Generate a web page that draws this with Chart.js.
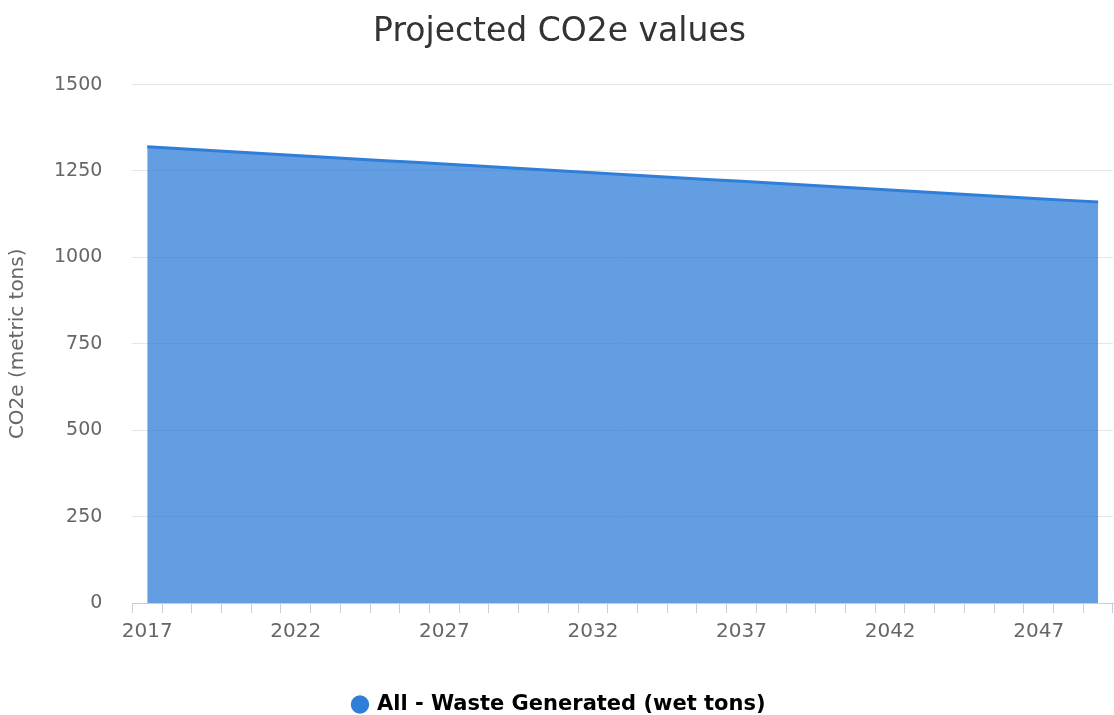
<!doctype html>
<html lang="en">
<head>
  <meta charset="utf-8">
  <title>Projected CO2e values</title>
  <script src="https://cdn.jsdelivr.net/npm/chart.js@4.4.0/dist/chart.umd.min.js"></script>
  <style>
    html, body { margin: 0; padding: 0; background: #fff; }
    #wrap { width: 1114px; height: 715px; }
  </style>
</head>
<body>
  <div id="wrap"><canvas id="myChart" width="1114" height="715"></canvas></div>
  <script>
    // years on the x axis
    const years = [2017, 2018, 2019, 2020, 2021, 2022, 2023, 2024, 2025, 2026,
      2027, 2028, 2029, 2030, 2031, 2032, 2033, 2034, 2035, 2036,
      2037, 2038, 2039, 2040, 2041, 2042, 2043, 2044, 2045, 2046,
      2047, 2048, 2049];
    // CO2e
    const co2e = [1320, 1315, 1310, 1305, 1300, 1295, 1290, 1285, 1280, 1275,
      1270, 1265, 1260, 1255, 1250, 1245, 1240, 1235, 1230, 1225,
      1220, 1215, 1210, 1205, 1200, 1195, 1190, 1185, 1180, 1175,
      1170, 1165, 1160];
    const seriesName = 'All - Waste Generated (wet tons)';
    const yTicks = [0, 250, 500, 750, 1000, 1250, 1500];

    const font = 'DejaVu Sans';

    new Chart(document.getElementById('myChart').getContext('2d'), {
      type: 'line',
      data: {
        labels: years.map(String),
        datasets: [{
          label: seriesName,
          data: co2e,
          borderColor: '#2f7ed8',
          backgroundColor: 'rgba(47, 126, 216, 0.75)',
          borderWidth: 3,
          fill: 'origin',
          pointRadius: 0,
          tension: 0
        }]
      },
      options: {
        responsive: false,
        animation: false,
        layout: { padding: { left: 6, right: 1, top: 0, bottom: -10 } },
        plugins: {
          title: {
            display: true,
            text: 'Projected CO2e values',
            color: '#333333',
            font: { family: font, size: 33, weight: 'normal' },
            padding: { top: 13, bottom: 32 }
          },
          legend: {
            position: 'bottom',
            labels: {
              usePointStyle: true,
              pointStyle: 'circle',
              boxWidth: 13,
              boxHeight: 13,
              color: '#333333',
              padding: 2,
              font: { family: font, size: 21, weight: 'bold' },
              generateLabels: (chart) => [{
                text: seriesName,
                fillStyle: '#2f7ed8',
                strokeStyle: '#2f7ed8',
                lineWidth: 0,
                pointStyle: 'circle',
                datasetIndex: 0
              }]
            }
          },
          tooltip: { enabled: false }
        },
        scales: {
          x: {
            offset: true,
            afterFit: (scale) => { scale.height += 41; },
            grid: {
              offset: true,
              drawOnChartArea: false,
              drawTicks: true,
              tickLength: 10,
              color: '#c0d0e0'
            },
            border: { display: true, color: '#c0d0e0' },
            ticks: {
              autoSkip: false,
              maxRotation: 0,
              color: '#666666',
              padding: 7,
              font: { family: font, size: 20 },
              callback: (v, i) => (i % 5 === 0 ? String(years[i]) : '')
            }
          },
          y: {
            min: 0,
            max: 1500,
            afterBuildTicks: (axis) => { axis.ticks = yTicks.map(v => ({ value: v })); },
            afterFit: (scale) => { scale.width -= 10; },
            grid: { color: '#e6e6e6', drawTicks: false },
            border: { display: false },
            ticks: {
              color: '#666666',
              padding: 30,
              font: { family: font, size: 19 },
              callback: (v) => String(v)
            },
            title: {
              display: true,
              text: 'CO2e (metric tons)',
              color: '#666666',
              font: { family: font, size: 20 },
              padding: { top: 0, bottom: 4 }
            }
          }
        }
      }
    });
  </script>
</body>
</html>
